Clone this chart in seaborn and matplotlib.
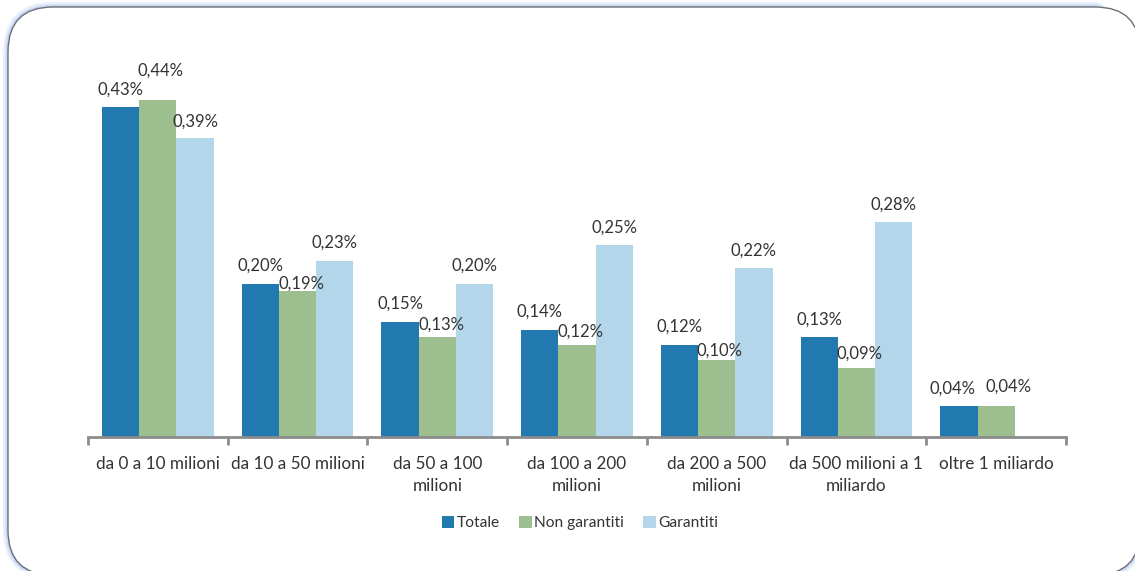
import numpy as np
import pandas as pd
import matplotlib
matplotlib.use("Agg")
import matplotlib.pyplot as plt
from matplotlib.patches import FancyBboxPatch
import seaborn as sns

categories = [
    "da 0 a 10 milioni",
    "da 10 a 50 milioni",
    "da 50 a 100\nmilioni",
    "da 100 a 200\nmilioni",
    "da 200 a 500\nmilioni",
    "da 500 milioni a 1\nmiliardo",
    "oltre 1 miliardo",
]
series = ["Totale", "Non garantiti", "Garantiti"]
totale = [0.43, 0.20, 0.15, 0.14, 0.12, 0.13, 0.04]
non_garantiti = [0.44, 0.19, 0.13, 0.12, 0.10, 0.09, 0.04]
garantiti = [0.39, 0.23, 0.20, 0.25, 0.22, 0.28, np.nan]

colors = ["#2179AF", "#9DBF90", "#B4D6EB"]
text_color = "#333333"
axis_color = "#8C8C8C"

# label offsets (pixels) from the top centre of each bar, per series
label_dy = {
    "Totale": [18] * 7,
    "Non garantiti": [29, 8, 13, 13, 10, 14, 20],
    "Garantiti": [16, 18, 18, 18, 18, 18, 18],
}
label_dx = {
    "Totale": [0, 0, 0, 0, 0, 0, -6],
    "Non garantiti": [3, 4, 4, 3, 3, 3, 12],
    "Garantiti": [0] * 7,
}

df = pd.DataFrame({
    "categoria": categories * 3,
    "serie": [s for s in series for _ in categories],
    "valore": totale + non_garantiti + garantiti,
})

sns.set_theme(style="white")
plt.rcParams["font.family"] = ["Lato", "DejaVu Sans"]

fig = plt.figure(figsize=(11.35, 5.71), dpi=100)
W, H = 1135, 571

# rounded frame (in inches) with a soft blue halo, running just past the right and bottom edges
box_xy, box_w, box_h = (0.08, -0.04), 11.32, 5.68
for lw, col, a in [(7, "#C9DBF5", 0.45), (3.5, "#B5CCF0", 0.6)]:
    fig.patches.append(FancyBboxPatch(
        box_xy, box_w, box_h,
        boxstyle="round,pad=0,rounding_size=0.45", transform=fig.dpi_scale_trans,
        facecolor="none", edgecolor=col, linewidth=lw, alpha=a, zorder=-3))
fig.patches.append(FancyBboxPatch(
    box_xy, box_w, box_h,
    boxstyle="round,pad=0,rounding_size=0.45", transform=fig.dpi_scale_trans,
    facecolor="white", edgecolor="#6E6E78", linewidth=1.0, zorder=-2))

ax = fig.add_axes([88 / W, (H - 437) / H, (1066 - 88) / W, 345 / H])
ax.set_facecolor("none")
ax.set_zorder(1)

sns.barplot(data=df, x="categoria", y="valore", hue="serie",
            order=categories, hue_order=series, palette=colors,
            width=0.8, saturation=1, linewidth=0, ax=ax, legend=True)

ax.set_xlim(-0.5, len(categories) - 0.5)
ax.set_ylim(0, 0.45)

for container, name in zip(ax.containers, series):
    for i, bar in enumerate(container):
        h = bar.get_height()
        if h is None or np.isnan(h):
            continue
        ax.annotate(f"{h:.2f}".replace(".", ",") + "%",
                    (bar.get_x() + bar.get_width() / 2, h),
                    xytext=(label_dx[name][i], label_dy[name][i]),
                    textcoords="offset pixels",
                    ha="center", va="center", fontsize=12, color=text_color)

sns.despine(ax=ax, left=True, top=True, right=True)
ax.spines["bottom"].set_color(axis_color)
ax.spines["bottom"].set_linewidth(2)
ax.set_yticks([])
ax.set_ylabel("")
ax.set_xlabel("")

ax.set_xticks(range(len(categories)))
ax.set_xticklabels(categories, fontsize=12.3, color=text_color, linespacing=1.45)
ax.set_xticks(np.arange(-0.5, len(categories)), minor=True)
ax.tick_params(axis="x", which="major", bottom=True, length=0, pad=14)
ax.tick_params(axis="x", which="minor", bottom=True, length=6, width=2,
               color=axis_color, direction="out")
for lab in ax.get_xticklabels():
    lab.set_verticalalignment("top")

ax.legend_.remove()
handles = [plt.Rectangle((0, 0), 1, 1, facecolor=c, edgecolor="none") for c in colors]
leg = fig.legend(handles, series, loc="center", bbox_to_anchor=(580 / W, (H - 523) / H),
                 ncol=3, frameon=False, fontsize=11.2, handlelength=0.8, handleheight=0.8,
                 handletextpad=0.15, columnspacing=1.25, labelcolor=text_color)
leg.set_zorder(2)

fig.savefig("out.png", dpi=100)
